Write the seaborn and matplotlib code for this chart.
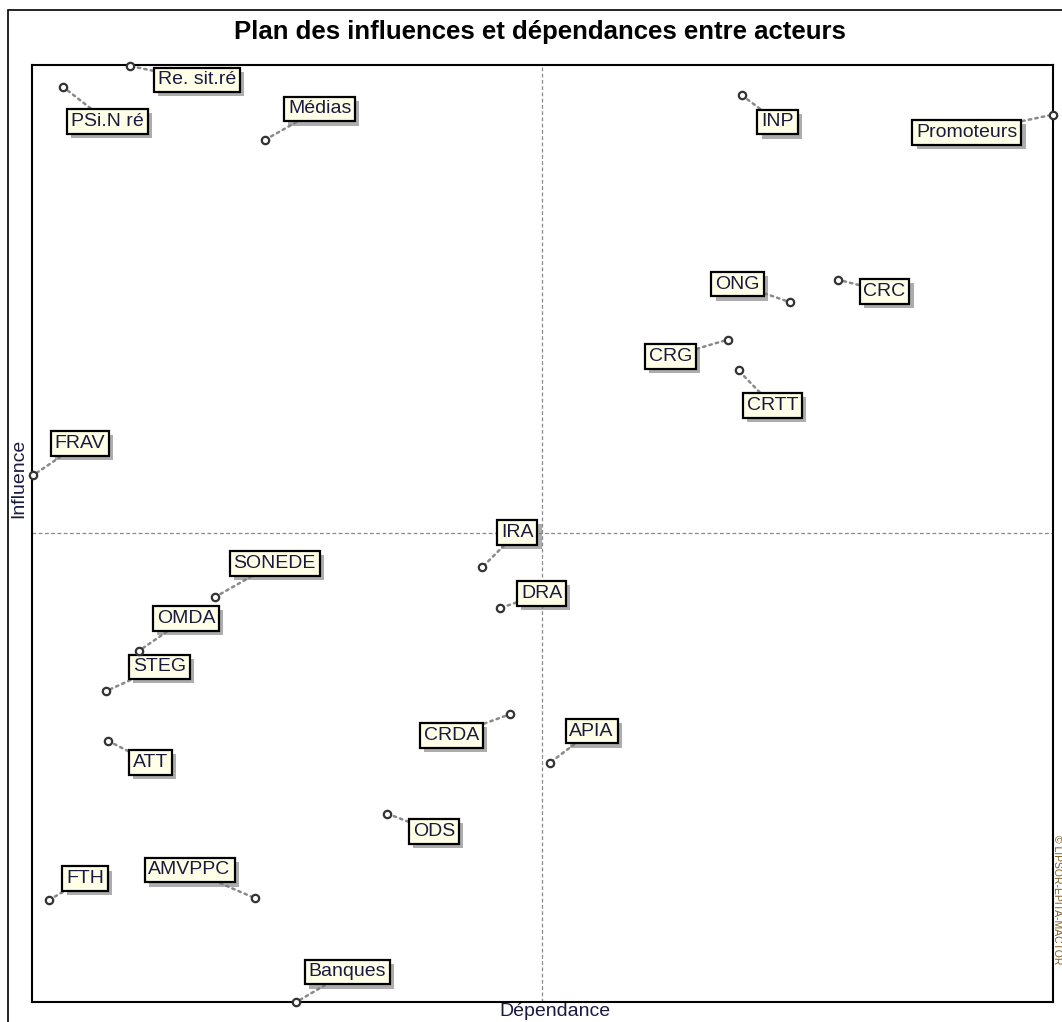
import matplotlib
matplotlib.use('Agg')
import matplotlib.pyplot as plt
import matplotlib.patheffects as pe
from matplotlib.patches import Rectangle
import pandas as pd
import seaborn as sns

sns.set_style('white')
plt.rcParams['font.family'] = ['Liberation Sans', 'DejaVu Sans']

# Actors, dependence (x) and influence (y) scores
actors = ['Re. sit.ré', 'PSi.N ré', 'Médias', 'INP', 'Promoteurs', 'ONG', 'CRC', 'CRG',
          'CRTT', 'FRAV', 'IRA', 'DRA', 'SONEDE', 'OMDA', 'STEG', 'ATT', 'CRDA', 'APIA',
          'ODS', 'FTH', 'AMVPPC', 'Banques']
dependance = [9.6, 3.0, 22.8, 69.5, 100.0, 74.2, 78.9, 68.2,
              69.2, 0.1, 44.1, 45.8, 17.9, 10.5, 7.3, 7.4, 46.8, 50.7,
              34.8, 1.7, 21.8, 25.9]
influence = [99.9, 97.7, 92.0, 96.8, 94.7, 74.7, 77.1, 70.7,
             67.4, 56.2, 46.4, 42.0, 43.2, 37.5, 33.2, 27.9, 30.7, 25.5,
             20.1, 10.9, 11.1, 0.0]

# label placement (pixel offsets from each point)
offsets = {
    'Re. sit.ré': (67, -14), 'PSi.N ré': (45, -35), 'Médias': (55, 31), 'INP': (36, -27),
    'Promoteurs': (-86, -18), 'ONG': (-52, 18), 'CRC': (47, -12), 'CRG': (-58, -17),
    'CRTT': (34, -35), 'FRAV': (47, 32), 'IRA': (35, 35), 'DRA': (42, 15),
    'SONEDE': (60, 34), 'OMDA': (47, 32), 'STEG': (53, 24), 'ATT': (43, -22),
    'CRDA': (-58, -21), 'APIA': (42, 32), 'ODS': (47, -18), 'FTH': (36, 21),
    'AMVPPC': (-65, 28), 'Banques': (51, 30),
}

df = pd.DataFrame({'Acteur': actors, 'Dependance': dependance, 'Influence': influence})

fig = plt.figure(figsize=(10.62, 10.22), dpi=100)
ax = fig.add_axes([0.0301, 0.0196, 0.9614, 0.9168])

# outer frame of the picture
fig.patches.append(Rectangle((0.0075, -0.01), 1.1, 1.0, transform=fig.transFigure,
                             fill=False, edgecolor='black', linewidth=1.2))

ax.axvline(50, color='#888888', linestyle=(0, (3, 2)), linewidth=0.9, zorder=1)
ax.axhline(50, color='#888888', linestyle=(0, (3, 2)), linewidth=0.9, zorder=1)

shadow = [pe.SimplePatchShadow(offset=(3, -3), shadow_rgbFace='#777777', alpha=0.6), pe.Normal()]

for _, row in df.iterrows():
    dx, dy = offsets[row['Acteur']]
    ann = ax.annotate(row['Acteur'], xy=(row['Dependance'], row['Influence']),
                      xytext=(dx, dy), textcoords='offset pixels',
                      ha='center', va='center', fontsize=14, color='#1a1a40',
                      bbox=dict(boxstyle='square,pad=0.2', facecolor='#FFFFE8',
                                edgecolor='black', linewidth=1.6),
                      arrowprops=dict(arrowstyle='-', linestyle=':', color='#8a8a8a',
                                      linewidth=1.8, shrinkA=0, shrinkB=3),
                      annotation_clip=False, zorder=4)
    ann.get_bbox_patch().set_path_effects(shadow)

sns.scatterplot(data=df, x='Dependance', y='Influence', ax=ax, s=28, color='white',
                edgecolor='#333333', linewidth=1.6, zorder=5, clip_on=False, legend=False)

ax.set_xlim(0, 100)
ax.set_ylim(0, 100)
ax.set_xticks([])
ax.set_yticks([])
ax.set_xlabel('')
ax.set_ylabel('')
for sp in ax.spines.values():
    sp.set_color('black')
    sp.set_linewidth(1.5)

fig.text(555 / 1062, 1 - 1011 / 1022, 'Dépendance', ha='center', va='center',
         fontsize=14, color='#1a1a40')
fig.text(19 / 1062, 1 - 478 / 1022, 'Influence', ha='center', va='center',
         rotation=90, fontsize=14, color='#1a1a40')

fig.text(0.508, 0.969, 'Plan des influences et dépendances entre acteurs',
         ha='center', va='center', fontsize=18.5, fontweight='bold', color='black')
fig.text(1057 / 1062, 0.12, '© LIPSOR-EPITA-MACTOR', rotation=-90, ha='center', va='center',
         fontsize=7.5, color='#806020')

fig.savefig('out.png', dpi=100)
